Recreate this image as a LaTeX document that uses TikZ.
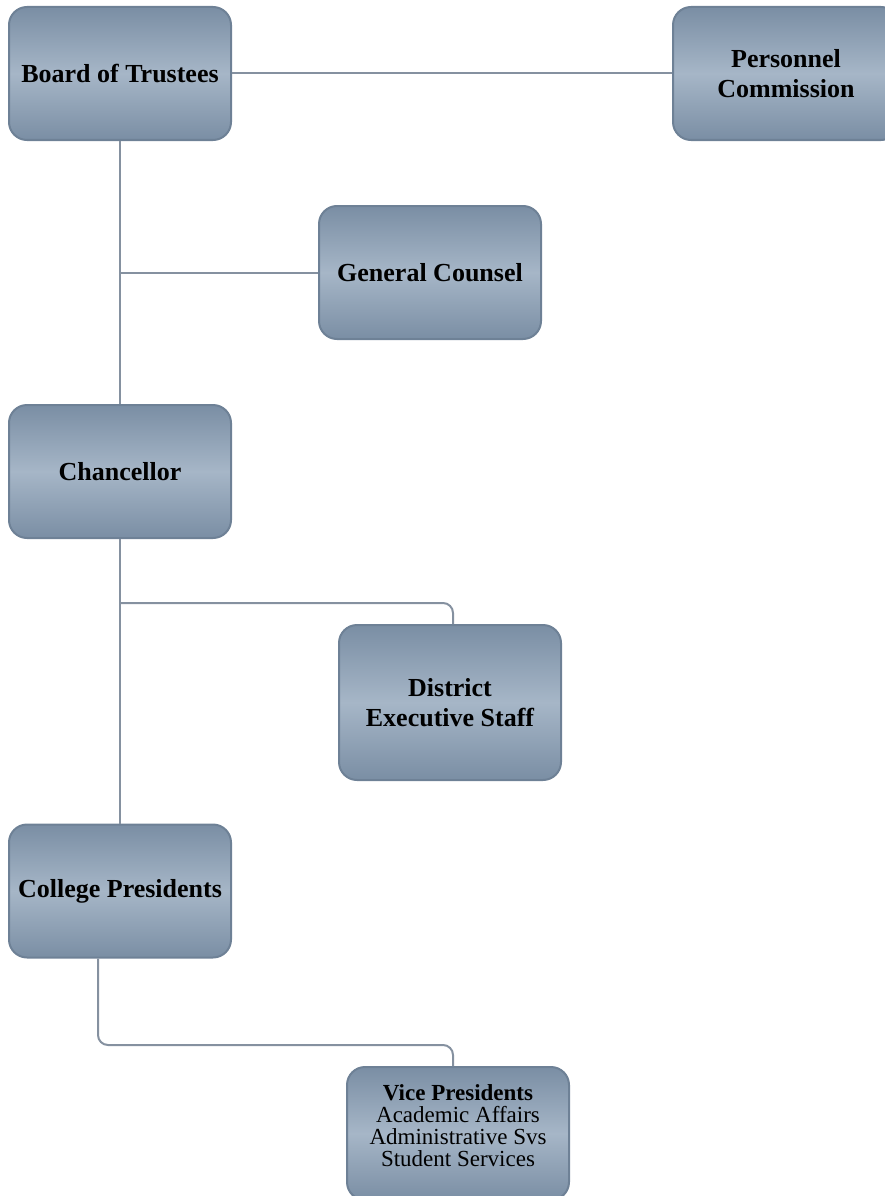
\documentclass[tikz,border=0pt]{standalone}
\usepackage{fontspec}
\setmainfont{Liberation Serif}
\definecolor{boxedge}{HTML}{6E8196}
\definecolor{boxdark}{HTML}{7A8EA4}
\definecolor{boxlight}{HTML}{A6B6C7}
\definecolor{linkgray}{HTML}{8591A0}
\tikzset{
  unit/.style={draw=boxedge, line width=2pt, rounded corners=18pt,
    top color=boxdark, bottom color=boxdark, middle color=boxlight,
    minimum width=222pt, minimum height=133pt, align=center,
    font=\fontsize{26}{30}\selectfont\bfseries},
  link/.style={draw=linkgray, line width=2pt}
}
\begin{document}
\begin{tikzpicture}[x=1pt,y=-1pt]
\useasboundingbox (0,0) rectangle (885,1196);
\node[unit] (board) at (120,73.5) {Board of Trustees};
\node[unit, minimum width=226pt] (personnel) at (786,73.5) {Personnel\\Commission};
\node[unit] (counsel) at (430,272.5) {General Counsel};
\node[unit] (chancellor) at (120,471.5) {Chancellor};
\node[unit, minimum height=155pt] (district) at (450,702.5) {District\\Executive Staff};
\node[unit] (presidents) at (120,891) {College Presidents};
\node[unit, font=\fontsize{23}{22}\selectfont, text depth=16pt] (vice) at (458,1133.5)
  {\textbf{Vice Presidents}\\Academic Affairs\\Administrative Svs\\Student Services};

\path[link] (board) -- (personnel);
\path[link] (board) -- (chancellor);
\path[link] (chancellor) -- (presidents);
\path[link] (board.south |- counsel.west) -- (counsel.west);
\path[link, rounded corners=10pt] (chancellor.south |- 0,603) -| ([xshift=3pt]district.north);
\path[link, rounded corners=10pt] ([xshift=-22pt]presidents.south) |- ([xshift=-5pt,yshift=21pt]vice.north) -- ([xshift=-5pt]vice.north);
\end{tikzpicture}
\end{document}
